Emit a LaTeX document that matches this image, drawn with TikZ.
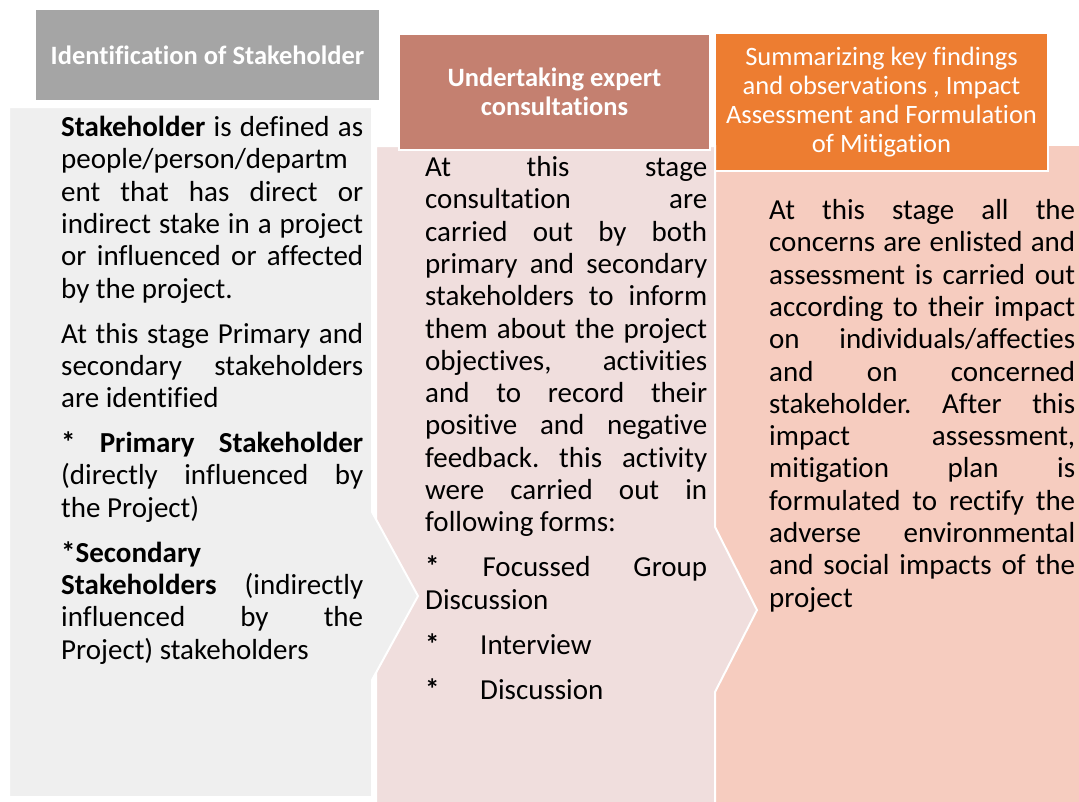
\documentclass[tikz,border=0pt]{standalone}
\usepackage{fontspec}
\setmainfont{Carlito}[RawFeature={-liga;-clig;-calt;-dlig;-rlig}]
\frenchspacing

% one justified line, one flush-left line, and the gap between paragraphs
\newcommand\jline[1]{\noindent\makebox[\linewidth][s]{#1}\par}
\newcommand\fline[1]{\noindent #1\par}
\newcommand\pgap{\vspace{12.7pt}}

\definecolor{grayhead}{RGB}{165,165,165}
\definecolor{graybody}{RGB}{239,239,239}
\definecolor{rosehead}{RGB}{196,128,112}
\definecolor{rosebody}{RGB}{240,222,221}
\definecolor{orangehead}{RGB}{237,125,49}
\definecolor{orangebody}{RGB}{246,204,191}

\begin{document}
\begin{tikzpicture}[x=1pt,y=-1pt,
  panel/.style={draw=white, line width=2pt},
  head/.style={panel, inner sep=0pt, text=white, align=center,
               font=\fontsize{26.5}{29}\selectfont},
  bodytext/.style={anchor=base west, inner sep=0pt,
               font=\fontsize{29}{32.3}\selectfont}]

\useasboundingbox (0,0) rectangle (1079,801);

% third stage: body and heading
\path[panel, fill=orangebody] (714,145) rectangle (1081,803);
\node[head, fill=orangehead, minimum width=333pt, minimum height=138pt]
  (h3) at (881.5,102)
  {Summarizing key findings\\and observations , Impact\\Assessment and Formulation\\of Mitigation};

% second stage: chevron body and heading
\path[panel, fill=rosebody] (376,146) -- (715,146) -- (715,527) -- (757,610)
  -- (715,692) -- (715,803) -- (376,803) -- cycle;
\node[head, fill=rosehead, minimum width=311pt, minimum height=116pt,
  font=\fontsize{26.5}{29}\selectfont\bfseries]
  (h2) at (554.5,92) {Undertaking expert\\consultations};

% first stage: chevron body and heading
\path[panel, fill=graybody] (9,107) -- (372,107) -- (372,512) -- (418,596)
  -- (372,680) -- (372,797) -- (9,797) -- cycle;
\node[head, fill=grayhead, minimum width=345pt, minimum height=92pt,
  font=\fontsize{26.5}{29}\selectfont\bfseries]
  (h1) at (207.5,55) {Identification of Stakeholder};

% body texts
\node[bodytext] (t1) at (61,136.5) {\parbox[t]{302pt}{%
\jline{\textbf{Stakeholder} is defined as}
\fline{people/person/departm}
\jline{ent that has direct or}
\jline{indirect stake in a project}
\jline{or influenced or affected}
\fline{by the project.}
\pgap
\jline{At this stage Primary and}
\jline{secondary stakeholders}
\fline{are identified}
\pgap
\jline{\textbf{* Primary Stakeholder}}
\jline{(directly influenced by}
\fline{the Project)}
\pgap
\fline{\textbf{*Secondary}}
\jline{\textbf{Stakeholders} (indirectly}
\jline{influenced by the}
\fline{Project) stakeholders}}};

\node[bodytext] (t2) at (425,176.5) {\parbox[t]{282pt}{%
\jline{At this stage}
\jline{consultation are}
\jline{carried out by both}
\jline{primary and secondary}
\jline{stakeholders to inform}
\jline{them about the project}
\jline{objectives, activities}
\jline{and to record their}
\jline{positive and negative}
\jline{feedback. this activity}
\jline{were carried out in}
\fline{following forms:}
\pgap
\jline{\textbf{*} Focussed Group}
\fline{Discussion}
\pgap
\fline{\makebox[55pt][l]{\textbf{*}}Interview}
\pgap
\fline{\makebox[55pt][l]{\textbf{*}}Discussion}}};

\node[bodytext] (t3) at (769,219.5) {\parbox[t]{306pt}{%
\jline{At this stage all the}
\jline{concerns are enlisted and}
\jline{assessment is carried out}
\jline{according to their impact}
\jline{on individuals/affecties}
\jline{and on concerned}
\jline{stakeholder. After this}
\jline{impact assessment,}
\jline{mitigation plan is}
\jline{formulated to rectify the}
\jline{adverse environmental}
\jline{and social impacts of the}
\fline{project}}};

\end{tikzpicture}
\end{document}
